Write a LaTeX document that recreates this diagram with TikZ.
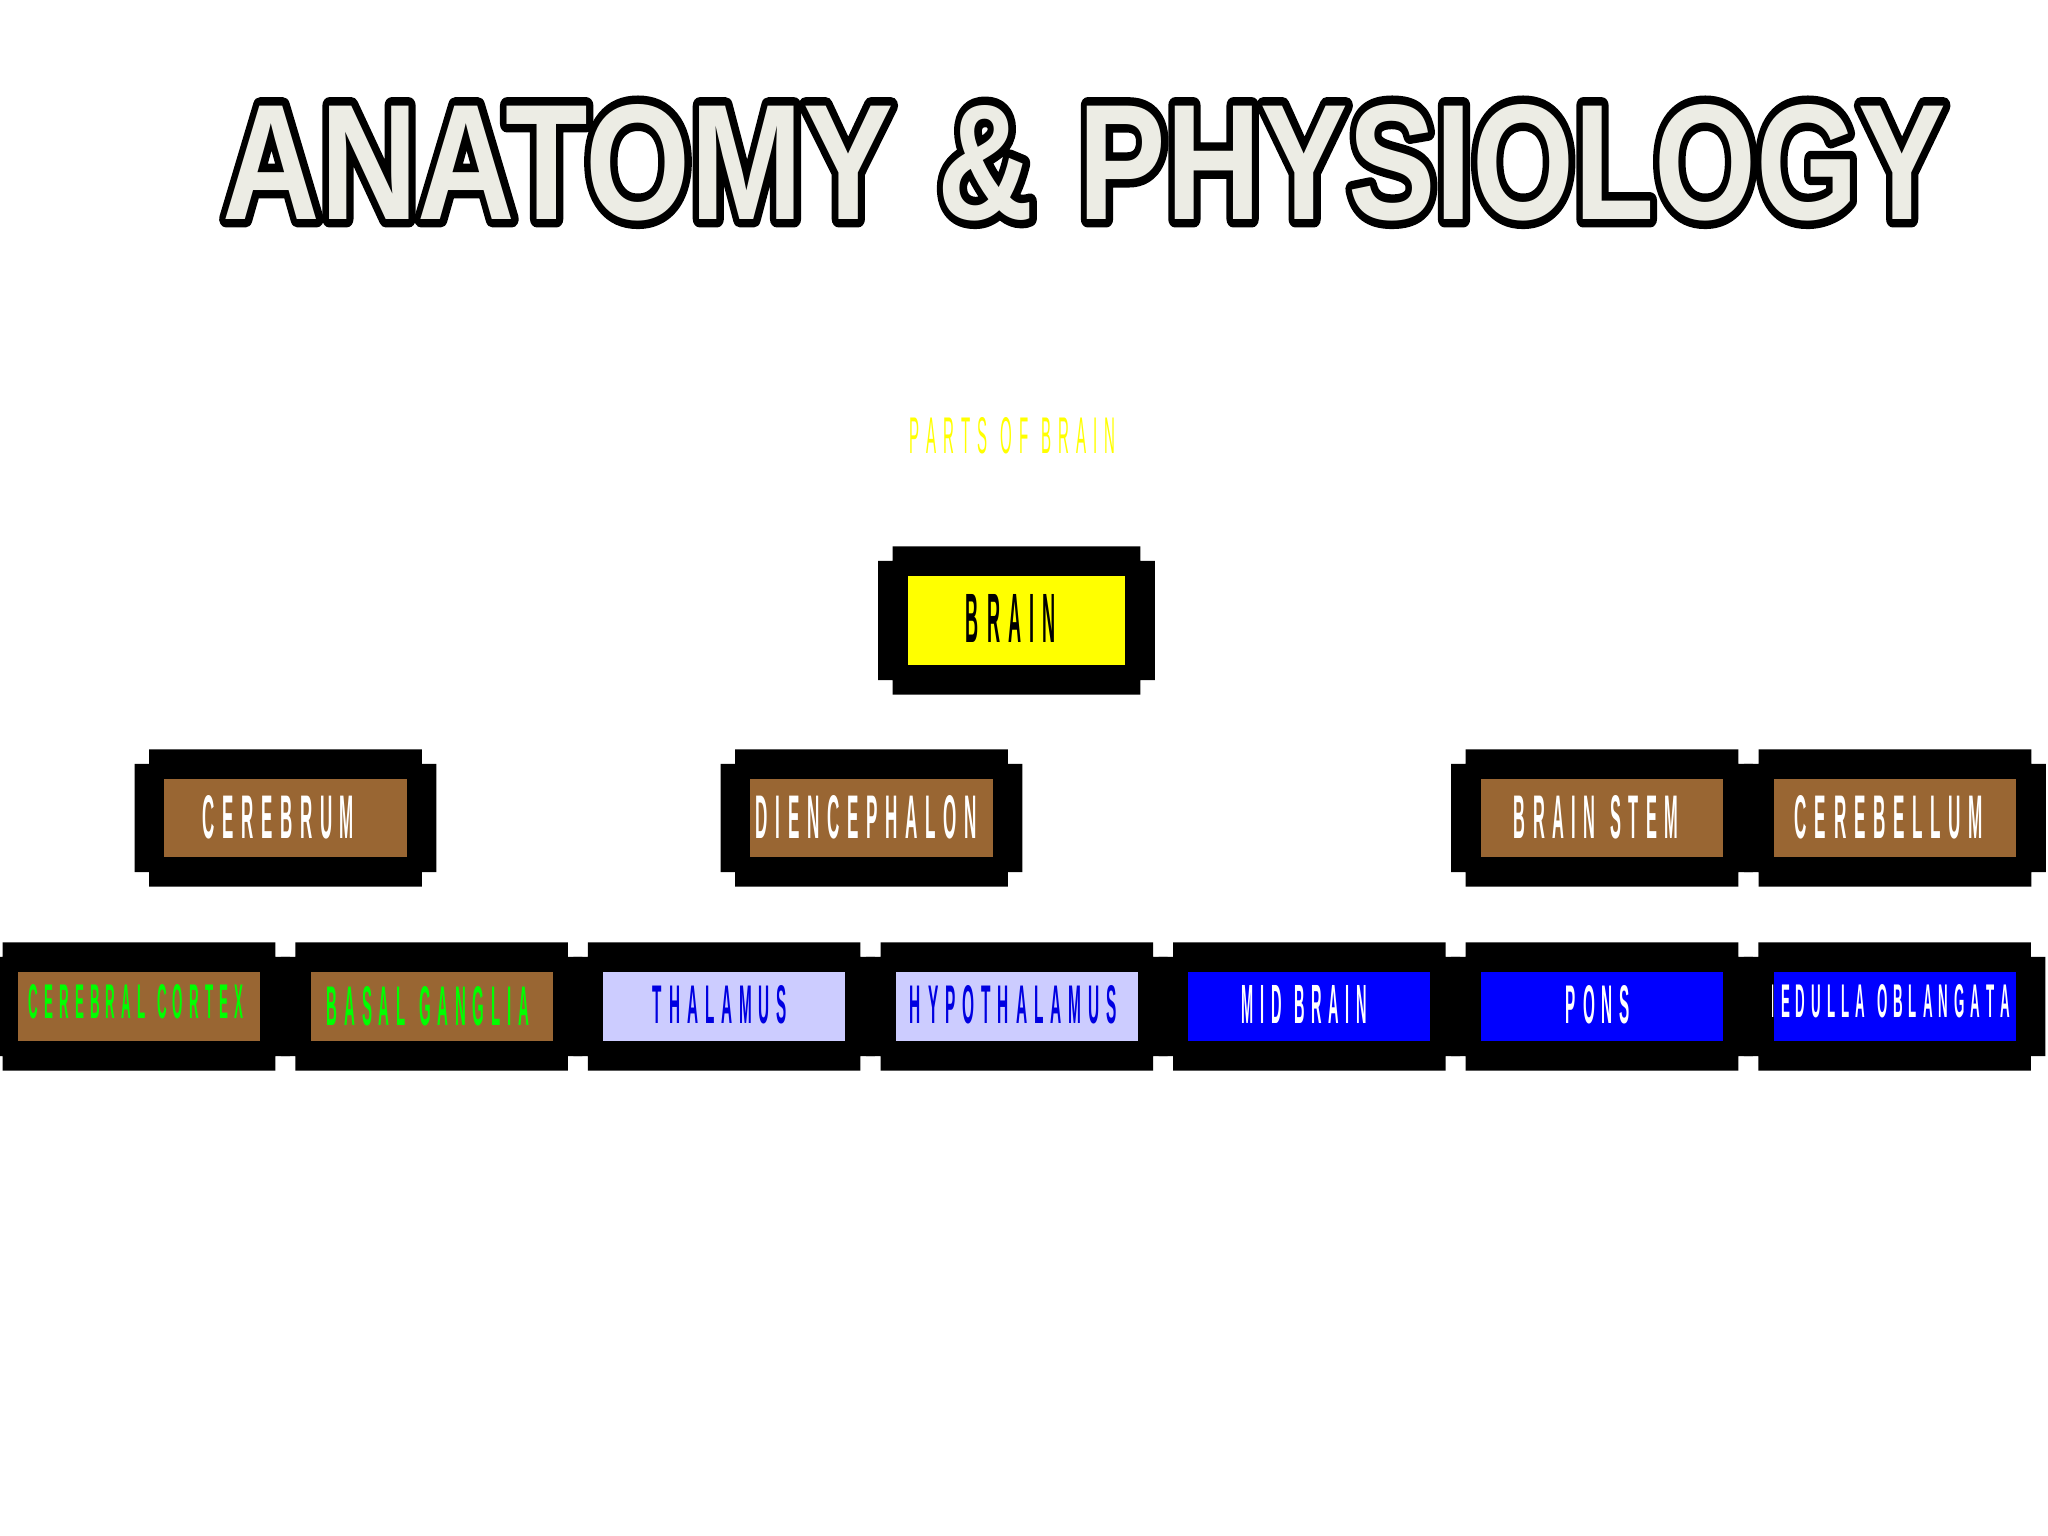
\documentclass[tikz,border=0pt]{standalone}
\usepackage{fontspec}
\usetikzlibrary{calc,backgrounds}
\newfontfamily\arialf{Liberation Sans}
\definecolor{brownbox}{RGB}{153,102,51}
\definecolor{lavbox}{RGB}{204,204,255}
\definecolor{bluebox}{RGB}{0,0,255}
\definecolor{bluetext}{RGB}{0,0,225}
\definecolor{greentext}{RGB}{0,255,0}
\definecolor{yel}{RGB}{255,255,0}
\definecolor{titlefill}{RGB}{236,236,228}
% letter tracking between capital letters
\XeTeXinterchartokenstate=0
\count255=`A
\loop
  \XeTeXcharclass\count255=7
  \ifnum\count255<`Z \advance\count255 by 1
\repeat
\XeTeXinterchartoks 7 7 = {\kern0.45em}
\newcommand\lbl[3]{\resizebox{#1}{#2}{\XeTeXinterchartokenstate=1 \spaceskip=0.9em\relax #3}}
\newcommand\outl[1]{\special{pdf:literal direct 2 Tr 4.6 w 1 j}#1\special{pdf:literal direct 0 Tr}}
\newcommand\titlestr{\scalebox{1.012}[1]{ANATOMY}\hspace{2.5pt} \&\hspace{2.5pt} \scalebox{0.982}[1]{PHYSIOLOGY}}
\newcommand\frm[1]{%
  \fill[black] ($(#1.north west)+(-14.5,-29)$) -- ($(#1.north east)+(14.5,-29)$)
    -- ($(#1.north east)+(14.5,-14.5)$) -- ($(#1.north east)+(29,-14.5)$)
    -- ($(#1.south east)+(29,14.5)$) -- ($(#1.south east)+(14.5,14.5)$)
    -- ($(#1.south east)+(14.5,29)$) -- ($(#1.south west)+(-14.5,29)$)
    -- ($(#1.south west)+(-14.5,14.5)$) -- ($(#1.south west)+(-29,14.5)$)
    -- ($(#1.north west)+(-29,-14.5)$) -- ($(#1.north west)+(-14.5,-14.5)$) -- cycle;}
\tikzset{
  lab/.style={inner sep=0, anchor=base, font=\arialf\bfseries\fontsize{20}{24}\selectfont},
  labr/.style={inner sep=0, anchor=base, font=\arialf\fontsize{20}{24}\selectfont},
  ibox/.style={inner sep=0, draw=none, minimum width=2.42cm},
  rowthree/.style={ibox, minimum height=0.69cm},
  rowtwo/.style={ibox, minimum height=0.78cm},
  titletext/.style={inner sep=0, anchor=base west, font=\arialf\bfseries\fontsize{45}{50}\selectfont}
}
\begin{document}
\begin{tikzpicture}[x=0.01cm,y=-0.01cm]
\useasboundingbox (0,0) rectangle (2048,1536);
% title
\node[titletext, text=black] (titleoutline) at (222,219)
  {\resizebox{17.22cm}{1.15cm}{\outl{\titlestr}}};
\node[titletext, text=titlefill] (title) at (222,219)
  {\resizebox{17.22cm}{1.15cm}{\titlestr}};
% subtitle
\node[labr, text=yel] (parts) at (1012.5,453) {\lbl{2.05cm}{0.36cm}{PARTS OF BRAIN}};
% level 1
\node[ibox, fill=yel, minimum width=2.17cm, minimum height=0.89cm] (brain) at (1016.5,620.5) {};
\node[lab, text=black] (tbrain) at (1011,642) {\lbl{0.90cm}{0.48cm}{BRAIN}};
% level 2
\node[rowtwo, fill=brownbox] (cerebrum) at (285.5,818) {};
\node[rowtwo, fill=brownbox] (dien) at (871.5,818) {};
\node[rowtwo, fill=brownbox] (stem) at (1602,818) {};
\node[rowtwo, fill=brownbox] (cerebellum) at (1895,818) {};
\node[lab, text=white] (tcerebrum) at (278.5,838) {\lbl{1.51cm}{0.43cm}{CEREBRUM}};
\node[lab, text=white] (tdien) at (866.5,838) {\lbl{2.21cm}{0.43cm}{DIENCEPHALON}};
\node[lab, text=white] (tstem) at (1596,838) {\lbl{1.64cm}{0.43cm}{BRAIN STEM}};
\node[lab, text=white] (tcerebellum) at (1889,838) {\lbl{1.88cm}{0.43cm}{CEREBELLUM}};
% level 3
\node[rowthree, fill=brownbox] (cortex) at (139,1006.5) {};
\node[rowthree, fill=brownbox] (basal) at (431.6,1006.5) {};
\node[rowthree, fill=lavbox] (thal) at (724.2,1006.5) {};
\node[rowthree, fill=lavbox] (hypo) at (1016.8,1006.5) {};
\node[rowthree, fill=bluebox] (mid) at (1309.4,1006.5) {};
\node[rowthree, fill=bluebox] (pons) at (1602,1006.5) {};
\node[rowthree, fill=bluebox] (medulla) at (1894.6,1006.5) {};
\node[lab, text=greentext] (tcortex) at (136,1018) {\lbl{2.14cm}{0.34cm}{CEREBRAL CORTEX}};
\node[lab, text=greentext] (tbasal) at (428,1025) {\lbl{2.02cm}{0.39cm}{BASAL GANGLIA}};
\node[lab, text=bluetext] (tthal) at (720,1023) {\lbl{1.34cm}{0.38cm}{THALAMUS}};
\node[lab, text=bluetext] (thypo) at (1013.5,1023) {\lbl{2.07cm}{0.38cm}{HYPOTHALAMUS}};
\node[lab, text=white] (tmid) at (1304.5,1023) {\lbl{1.25cm}{0.38cm}{MID BRAIN}};
\node[lab, text=white] (tpons) at (1598,1023) {\lbl{0.64cm}{0.38cm}{PONS}};
\begin{scope}
  \clip (medulla.north west) rectangle (medulla.south east);
  \node[lab, text=white] (tmedulla) at (1887,1017) {\lbl{2.46cm}{0.33cm}{MEDULLA OBLANGATA}};
\end{scope}
% frames
\begin{scope}[on background layer]
  \fill[white] (0,0) rectangle (2048,1536);
  \frm{brain}
  \frm{cerebrum}\frm{dien}\frm{stem}\frm{cerebellum}
  \frm{cortex}\frm{basal}\frm{thal}\frm{hypo}\frm{mid}\frm{pons}\frm{medulla}
\end{scope}
\end{tikzpicture}
\end{document}
